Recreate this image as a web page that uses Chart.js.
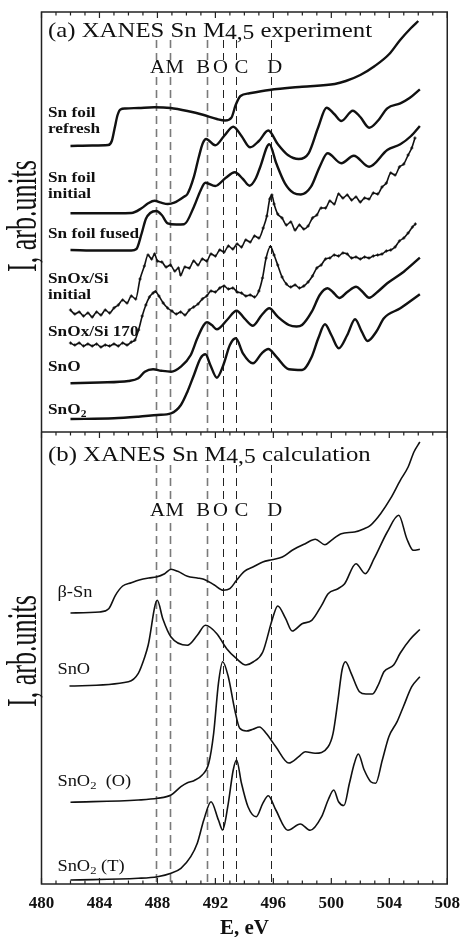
<!DOCTYPE html>
<html>
<head>
<meta charset="utf-8">
<script src="https://cdn.jsdelivr.net/npm/chart.js@4.4.0/dist/chart.umd.min.js"></script>
<style>
    html, body { margin: 0; padding: 0; background: #fff; }
</style>
</head>
<body>
<canvas id="xanes" width="469" height="937"></canvas>
<script>
// Energy axis (eV)
const energyMin = 480;
const energyMax = 508;
const energyStep = 4;

// Intensity axis spans both panels; panel (b) sits below panelSplit
const intensityMax = 87.2;
const panelSplit = 45.2;

// Feature markers
const featureNames = ['A', 'M', 'B', 'O', 'C', 'D'];
const featureEnergies = [487.9, 488.9, 491.4, 492.5, 493.4, 495.85];
const featureLabelEnergies = [488.0, 489.2, 491.15, 492.35, 493.8, 496.1];

// (a) experiment: [E, I] pairs, already offset for stacking
const snFoilRefresh = [
    [482.0, 73.8], [483.5, 73.85], [484.6, 73.9], [484.85, 74.3], [485.05, 75.6], [485.25, 76.9],
    [485.45, 77.45], [485.8, 77.55], [486.7, 77.6], [487.8, 77.67], [488.9, 77.6], [490.07, 77.3],
    [491.2, 76.9], [492.1, 76.5], [492.67, 76.35], [493.12, 76.67], [493.4, 77.9], [493.73, 78.8],
    [494.36, 79.07], [495.72, 79.4], [497.98, 79.73], [500.24, 80.0], [501.0, 80.3], [502.0, 80.9],
    [503.0, 81.8], [504.0, 83.0], [504.75, 84.4], [505.5, 85.6], [506.0, 86.3]
];
const snFoilInitial = [
    [482.0, 67.07], [484.0, 67.07], [486.2, 67.1], [486.9, 67.57], [487.36, 68.07], [487.8, 68.33],
    [488.26, 68.13], [488.71, 68.0], [489.16, 68.13], [489.84, 68.73], [490.07, 69.0], [490.52, 70.73],
    [490.86, 72.73], [491.13, 74.07], [491.36, 74.5], [491.99, 73.87], [492.6, 74.8], [493.23, 75.73],
    [493.8, 74.8], [494.4, 73.67], [495.0, 74.3], [495.65, 75.35], [496.3, 74.0], [497.0, 72.9],
    [497.75, 72.5], [498.43, 73.07], [499.11, 75.73], [499.67, 77.63], [500.2, 77.0], [500.69, 76.3],
    [501.48, 77.33], [502.0, 76.7], [502.61, 75.63], [503.2, 76.3], [503.86, 77.57], [504.76, 78.07],
    [505.4, 78.6], [506.11, 79.47]
];
const snFoilFused = [
    [482.0, 63.4], [484.0, 63.35], [486.2, 63.35], [486.55, 63.5], [486.9, 65.0], [487.2, 66.5],
    [487.5, 67.1], [487.92, 67.3], [488.3, 66.9], [488.71, 66.07], [489.3, 65.95], [489.84, 65.97],
    [490.52, 67.73], [490.97, 69.33], [491.31, 70.13], [491.99, 69.8], [492.7, 70.6], [493.34, 71.17],
    [493.9, 70.5], [494.36, 69.83], [494.8, 70.6], [495.1, 71.73], [495.72, 73.97], [496.2, 72.07],
    [496.8, 70.07], [497.4, 69.1], [497.9, 68.95], [498.6, 69.73], [499.2, 71.73], [499.74, 73.07],
    [500.69, 72.07], [501.55, 72.83], [502.61, 71.73], [503.86, 73.4], [504.76, 73.97], [505.5, 74.8],
    [506.11, 75.8]
];
const snOxSiInitial = [
    [482.0, 57.4], [482.3, 57.0], [482.6, 57.2], [482.9, 56.8], [483.2, 57.1], [483.5, 56.7],
    [483.8, 57.2], [484.1, 56.9], [484.4, 57.4], [484.7, 57.1], [485.0, 57.6], [485.3, 57.9],
    [485.6, 58.4], [485.9, 58.1], [486.2, 58.8], [486.5, 58.5], [486.8, 60.5], [487.1, 61.8],
    [487.35, 62.9], [487.6, 62.5], [487.8, 63.0], [488.0, 62.3], [488.3, 62.2], [488.6, 61.7],
    [488.9, 61.9], [489.2, 61.3], [489.45, 61.6], [489.6, 60.9], [489.9, 61.7], [490.2, 61.6],
    [490.5, 62.3], [490.8, 61.9], [491.1, 62.5], [491.4, 62.3], [491.7, 63.0], [492.0, 62.8],
    [492.3, 63.4], [492.6, 63.2], [492.9, 63.8], [493.2, 63.5], [493.5, 64.0], [493.8, 63.7],
    [494.1, 64.4], [494.4, 64.2], [494.7, 64.8], [495.0, 64.6], [495.3, 65.6], [495.55, 66.8],
    [495.75, 68.5], [495.9, 68.9], [496.05, 68.0], [496.3, 67.0], [496.6, 66.6], [496.9, 65.9],
    [497.2, 66.2], [497.5, 65.4], [497.8, 65.9], [498.1, 65.5], [498.4, 65.8], [498.7, 66.6],
    [499.0, 66.9], [499.3, 67.6], [499.6, 67.6], [499.9, 68.3], [500.2, 68.0], [500.5, 69.0],
    [500.8, 68.6], [501.1, 68.9], [501.4, 68.4], [501.7, 68.7], [502.0, 68.2], [502.3, 68.6],
    [502.6, 68.5], [502.9, 69.1], [503.2, 69.0], [503.5, 69.7], [503.8, 70.1], [504.1, 71.1],
    [504.4, 70.9], [504.7, 71.7], [505.0, 72.0], [505.3, 72.9], [505.55, 73.6], [505.77, 74.6]
];
const snOxSi170 = [
    [482.0, 54.1], [482.3, 53.9], [482.6, 54.1], [482.9, 53.8], [483.2, 54.0], [483.5, 53.8],
    [483.8, 54.0], [484.1, 53.7], [484.4, 53.9], [484.7, 53.8], [485.0, 54.0], [485.3, 53.8],
    [485.6, 54.1], [485.9, 53.9], [486.2, 54.2], [486.45, 54.4], [486.7, 55.4], [486.95, 56.8],
    [487.2, 57.9], [487.45, 58.7], [487.7, 59.1], [487.85, 59.25], [488.1, 58.8], [488.4, 58.1],
    [488.7, 57.6], [489.0, 57.3], [489.3, 57.0], [489.6, 57.2], [489.9, 56.9], [490.2, 57.4],
    [490.5, 57.7], [490.8, 58.0], [491.1, 58.5], [491.4, 58.8], [491.7, 59.3], [492.0, 59.2],
    [492.3, 59.6], [492.6, 59.8], [492.9, 59.5], [493.2, 59.6], [493.5, 59.2], [493.8, 59.1],
    [494.1, 58.8], [494.4, 58.9], [494.7, 58.7], [495.0, 59.3], [495.25, 60.6], [495.5, 62.6],
    [495.8, 63.75], [496.05, 62.9], [496.3, 61.9], [496.6, 60.7], [496.9, 60.0], [497.2, 59.7],
    [497.5, 59.9], [497.8, 59.6], [498.1, 59.8], [498.4, 60.2], [498.7, 60.8], [499.0, 61.6],
    [499.3, 61.9], [499.6, 62.5], [499.9, 62.6], [500.2, 62.9], [500.5, 62.8], [500.8, 63.1],
    [501.1, 63.0], [501.4, 62.6], [501.7, 62.7], [502.0, 62.5], [502.3, 62.7], [502.6, 62.6],
    [502.9, 62.8], [503.2, 62.9], [503.5, 63.0], [503.8, 63.3], [504.1, 63.4], [504.4, 63.7],
    [504.7, 64.3], [505.0, 64.6], [505.3, 65.1], [505.6, 65.7], [505.8, 66.0]
];
const snOExp = [
    [482.0, 50.07], [484.0, 50.15], [486.0, 50.3], [486.68, 50.57], [487.13, 51.23], [487.7, 51.47],
    [488.26, 51.33], [488.94, 51.23], [489.62, 51.73], [490.3, 52.9], [490.75, 54.57], [491.2, 55.9],
    [491.42, 56.17], [491.75, 55.9], [492.1, 55.47], [492.8, 56.4], [493.46, 57.33], [494.0, 56.57],
    [494.59, 55.83], [495.2, 56.9], [495.72, 57.57], [496.3, 56.73], [497.07, 55.9], [497.6, 55.75],
    [497.98, 55.9], [498.65, 57.23], [499.2, 58.9], [499.74, 59.57], [500.1, 59.2], [500.55, 58.6],
    [501.1, 59.2], [501.71, 59.73], [502.1, 59.3], [502.61, 58.63], [503.2, 59.23], [503.86, 60.07],
    [505.0, 61.23], [506.11, 62.63]
];
const snO2Exp = [
    [482.0, 46.5], [485.0, 46.57], [486.68, 46.73], [488.0, 46.9], [488.94, 47.07], [489.62, 47.9],
    [490.07, 49.23], [490.52, 50.9], [490.97, 52.57], [491.31, 52.97], [491.65, 51.9], [492.1, 50.63],
    [492.55, 51.9], [493.0, 53.9], [493.41, 54.57], [493.9, 53.07], [494.59, 52.07], [495.2, 53.07],
    [495.65, 53.5], [496.2, 52.73], [497.07, 51.47], [497.98, 51.4], [498.65, 52.73], [499.1, 54.57],
    [499.56, 55.97], [500.0, 54.9], [500.51, 53.57], [501.1, 54.9], [501.64, 56.47], [502.1, 55.23],
    [502.5, 54.3], [503.1, 55.23], [503.63, 56.57], [504.76, 57.57], [506.11, 58.97]
];

// (b) calculation
const betaSnCalc = [
    [482.0, 27.1], [484.0, 27.2], [484.64, 27.53], [485.1, 28.87], [485.6, 29.8], [486.2, 30.13],
    [486.68, 30.37], [487.4, 30.6], [487.92, 30.7], [488.5, 31.03], [488.94, 31.47], [489.4, 31.27],
    [490.07, 30.77], [490.75, 30.6], [491.2, 30.47], [491.9, 29.93], [492.55, 29.37], [493.0, 29.53],
    [493.46, 30.37], [494.0, 31.27], [494.59, 31.7], [495.27, 32.2], [495.9, 32.43], [496.62, 32.7],
    [497.3, 33.37], [498.2, 34.03], [498.9, 34.47], [499.56, 33.93], [500.0, 34.37], [500.69, 35.03],
    [501.6, 35.2], [502.27, 35.53], [502.7, 35.87], [503.4, 37.03], [504.08, 38.53], [504.76, 40.37],
    [505.3, 41.7], [505.7, 43.2], [506.11, 44.2]
];
const snOCalc = [
    [481.93, 19.8], [486.0, 20.23], [486.68, 21.07], [487.13, 22.73], [487.36, 23.87], [487.99, 28.37],
    [488.37, 26.53], [488.94, 24.7], [490.07, 23.87], [490.75, 24.87], [491.31, 25.87], [492.1, 25.03],
    [492.78, 23.53], [493.46, 22.53], [494.1, 21.9], [494.6, 22.2], [495.27, 23.2], [495.94, 26.53],
    [496.3, 27.8], [496.85, 26.53], [497.3, 25.3], [497.98, 26.03], [498.65, 26.37], [499.33, 27.87],
    [499.78, 29.03], [500.46, 29.53], [500.92, 30.03], [501.7, 32.03], [502.34, 31.03], [502.95, 32.53],
    [503.86, 35.2], [504.65, 36.87], [505.21, 34.53], [505.66, 33.37], [506.11, 33.47]
];
const snO2OctCalc = [
    [482.0, 8.17], [486.68, 8.4], [488.0, 8.57], [488.94, 8.9], [489.62, 9.73], [490.07, 10.13],
    [490.52, 10.33], [491.09, 10.9], [491.54, 12.07], [491.88, 15.07], [492.21, 20.07], [492.5, 22.23],
    [492.89, 20.73], [493.34, 17.4], [493.68, 15.57], [494.14, 15.3], [494.59, 15.47], [495.04, 15.7],
    [495.5, 15.07], [496.17, 13.73], [497.07, 12.1], [497.75, 12.73], [498.2, 13.23], [498.88, 13.07],
    [499.78, 13.73], [500.12, 15.07], [500.46, 18.4], [500.74, 21.4], [500.98, 22.23], [501.37, 21.07],
    [501.94, 19.23], [502.39, 19.0], [502.84, 19.0], [503.29, 20.07], [503.63, 21.23], [504.3, 21.9],
    [504.76, 23.1], [505.43, 24.45], [506.11, 25.45]
];
const snO2TetCalc = [
    [482.0, 0.4], [486.68, 0.57], [488.0, 0.73], [488.94, 1.07], [489.62, 1.57], [490.3, 2.73],
    [490.75, 4.07], [491.2, 6.4], [491.7, 8.23], [492.21, 6.4], [492.5, 5.4], [492.89, 8.07],
    [493.23, 11.4], [493.46, 12.4], [493.8, 10.07], [494.25, 7.73], [494.82, 6.73], [495.27, 8.07],
    [495.65, 8.83], [496.17, 7.4], [497.0, 5.37], [497.86, 6.0], [498.54, 5.37], [499.33, 6.73],
    [499.78, 8.4], [500.17, 9.4], [500.5, 8.23], [500.87, 7.85], [501.25, 10.07], [501.59, 12.07],
    [501.86, 13.0], [502.27, 11.4], [502.72, 10.23], [503.06, 10.07], [503.52, 12.4], [503.97, 14.73],
    [504.54, 16.23], [504.97, 17.73], [505.55, 19.73], [506.11, 20.73]
];

// Curve names, placed at [E, I]
const expLabels = [
    { lines: ['Sn foil', 'refresh'], at: [480.45, 77.1] },
    { lines: ['Sn foil', 'initial'], at: [480.45, 70.6] },
    { lines: ['Sn foil fused'], at: [480.45, 65.0] },
    { lines: ['SnOx/Si', 'initial'], at: [480.45, 60.5] },
    { lines: ['SnOx/Si 170'], at: [480.45, 55.2] },
    { lines: ['SnO'], at: [480.45, 51.7] },
    { lines: ['SnO|2'], at: [480.45, 47.4] }
];
const calcLabels = [
    { lines: ['\u03b2-Sn'], at: [481.1, 29.1] },
    { lines: ['SnO'], at: [481.1, 21.4] },
    { lines: ['SnO|2|  (O)'], at: [481.1, 10.2] },
    { lines: ['SnO|2| (T)'], at: [481.1, 1.7] }
];

const SERIF = '"Liberation Serif", "Times New Roman", serif';

function toPoints(pairs) {
    return pairs.map(p => ({ x: p[0], y: p[1] }));
}

function expSet(pairs, noisy) {
    return {
        data: toPoints(pairs),
        borderColor: '#111',
        backgroundColor: '#111',
        borderWidth: noisy ? 1.6 : 2.4,
        pointRadius: noisy ? 1.6 : 0,
        pointStyle: 'cross',
        pointBorderWidth: 1.2,
        cubicInterpolationMode: 'monotone'
    };
}

function calcSet(pairs) {
    return {
        data: toPoints(pairs),
        borderColor: '#111',
        borderWidth: 1.6,
        pointRadius: 0,
        cubicInterpolationMode: 'monotone'
    };
}

// Text helper: draws horizontally widened serif text, supports "|2|" subscripts
function drawText(ctx, text, x, y, size, weight, sx) {
    const parts = text.split('|');
    ctx.save();
    ctx.translate(x, y);
    ctx.scale(sx, 1);
    ctx.textBaseline = 'middle';
    ctx.textAlign = 'left';
    let cx = 0;
    parts.forEach((part, i) => {
        const sub = i % 2 === 1;
        const fs = sub ? Math.round(size * 0.68) : size;
        ctx.font = weight + ' ' + fs + 'px ' + SERIF;
        ctx.fillText(part, cx, sub ? size * 0.28 : 0);
        cx += ctx.measureText(part).width;
    });
    ctx.restore();
}

function drawTitle(ctx, prefix, suffix, x, y) {
    ctx.save();
    ctx.translate(x, y);
    ctx.scale(1.18, 1);
    ctx.textBaseline = 'alphabetic';
    ctx.font = '21px ' + SERIF;
    ctx.fillText(prefix, 0, 0);
    let cx = ctx.measureText(prefix).width;
    ctx.font = '20px ' + SERIF;
    ctx.fillText('4,5', cx, 2);
    cx += ctx.measureText('4,5').width;
    ctx.font = '21px ' + SERIF;
    ctx.fillText(suffix, cx, 0);
    ctx.restore();
}

const panelPlugin = {
    id: 'panels',
    beforeDatasetsDraw(chart) {
        const ctx = chart.ctx;
        const xs = chart.scales.x;
        const ys = chart.scales.y;
        // dashed feature lines, broken where the letters sit
        const spans = [[84.4, 82.4], [80.7, panelSplit], [41.9, 38.4], [36.1, 0]];
        featureEnergies.forEach((e, i) => {
            const px = Math.round(xs.getPixelForValue(e)) + 0.5;
            ctx.save();
            ctx.setLineDash([8, 5]);
            ctx.strokeStyle = i < 3 ? '#7a7a7a' : '#222';
            ctx.lineWidth = i < 3 ? 1.6 : 1;
            spans.forEach(s => {
                ctx.beginPath();
                ctx.moveTo(px, ys.getPixelForValue(s[0]));
                ctx.lineTo(px, ys.getPixelForValue(s[1]));
                ctx.stroke();
            });
            ctx.restore();
        });
    },
    afterDatasetsDraw(chart) {
        const ctx = chart.ctx;
        const xs = chart.scales.x;
        const ys = chart.scales.y;
        const area = chart.chartArea;
        const midY = ys.getPixelForValue(panelSplit);

        // frame and panel divider
        ctx.save();
        ctx.strokeStyle = '#222';
        ctx.lineWidth = 1.5;
        ctx.strokeRect(area.left, area.top, area.right - area.left, area.bottom - area.top);
        ctx.beginPath();
        ctx.moveTo(area.left, midY);
        ctx.lineTo(area.right, midY);
        ctx.stroke();

        // inward ticks every 1 eV, longer every 4 eV
        ctx.lineWidth = 1.2;
        for (let e = energyMin; e <= energyMax; e++) {
            const px = xs.getPixelForValue(e);
            const len = (e - energyMin) % energyStep === 0 ? 6 : 3.5;
            ctx.beginPath();
            ctx.moveTo(px, area.top); ctx.lineTo(px, area.top + len);
            ctx.moveTo(px, midY); ctx.lineTo(px, midY + len);
            ctx.moveTo(px, area.bottom); ctx.lineTo(px, area.bottom - len);
            ctx.stroke();
        }
        ctx.restore();

        ctx.save();
        ctx.fillStyle = '#111';

        // panel titles
        drawTitle(ctx, '(a) XANES Sn M', ' experiment', xs.getPixelForValue(480.45), ys.getPixelForValue(84.75));
        drawTitle(ctx, '(b) XANES Sn M', ' calculation', xs.getPixelForValue(480.45), ys.getPixelForValue(42.3));

        // feature letters
        featureNames.forEach((name, i) => {
            const px = xs.getPixelForValue(featureLabelEnergies[i]);
            [81.6, 37.3].forEach(v => {
                ctx.save();
                ctx.translate(px, ys.getPixelForValue(v));
                ctx.scale(1.15, 1);
                ctx.font = '18px ' + SERIF;
                ctx.textAlign = 'center';
                ctx.textBaseline = 'middle';
                ctx.fillText(name, 0, 0);
                ctx.restore();
            });
        });

        // curve names
        expLabels.forEach(lab => {
            lab.lines.forEach((line, k) => {
                drawText(ctx, line, xs.getPixelForValue(lab.at[0]),
                    ys.getPixelForValue(lab.at[1]) + k * 16.5, 15, 'bold', 1.15);
            });
        });
        calcLabels.forEach(lab => {
            drawText(ctx, lab.lines[0], xs.getPixelForValue(lab.at[0]),
                ys.getPixelForValue(lab.at[1]), 16, 'normal', 1.15);
        });

        // rotated axis titles, one per panel
        [66.8, 23.3].forEach(v => {
            ctx.save();
            ctx.translate(25, ys.getPixelForValue(v));
            ctx.rotate(-Math.PI / 2);
            ctx.scale(1, 1.6);
            ctx.font = '26px ' + SERIF;
            ctx.textAlign = 'center';
            ctx.textBaseline = 'middle';
            ctx.fillText('I, arb.units', 0, 0);
            ctx.restore();
        });
        ctx.restore();
    }
};

document.addEventListener('DOMContentLoaded', function() {
    const ctx = document.getElementById('xanes').getContext('2d');
    new Chart(ctx, {
        type: 'line',
        data: {
            datasets: [
                expSet(snFoilRefresh, false),
                expSet(snFoilInitial, false),
                expSet(snFoilFused, false),
                expSet(snOxSiInitial, true),
                expSet(snOxSi170, true),
                expSet(snOExp, false),
                expSet(snO2Exp, false),
                calcSet(betaSnCalc),
                calcSet(snOCalc),
                calcSet(snO2OctCalc),
                calcSet(snO2TetCalc)
            ]
        },
        options: {
            responsive: false,
            animation: false,
            layout: { padding: { left: 41.5, right: 14.5, top: 12, bottom: 0 } },
            plugins: {
                legend: { display: false },
                tooltip: { enabled: false }
            },
            scales: {
                x: {
                    type: 'linear',
                    min: energyMin,
                    max: energyMax,
                    grid: { display: false, drawTicks: false },
                    border: { display: false },
                    ticks: {
                        stepSize: energyStep,
                        padding: 9,
                        color: '#111',
                        font: { family: SERIF, size: 17, weight: 'bold' }
                    },
                    title: {
                        display: true,
                        text: 'E, eV',
                        color: '#111',
                        padding: { top: 0, bottom: 0 },
                        font: { family: SERIF, size: 21, weight: 'bold', lineHeight: 0.8 }
                    },
                    afterFit: function(scale) {
                        scale.height = 53;
                    }
                },
                y: {
                    type: 'linear',
                    min: 0,
                    max: intensityMax,
                    display: false
                }
            }
        },
        plugins: [panelPlugin]
    });
});
</script>
</body>
</html>
